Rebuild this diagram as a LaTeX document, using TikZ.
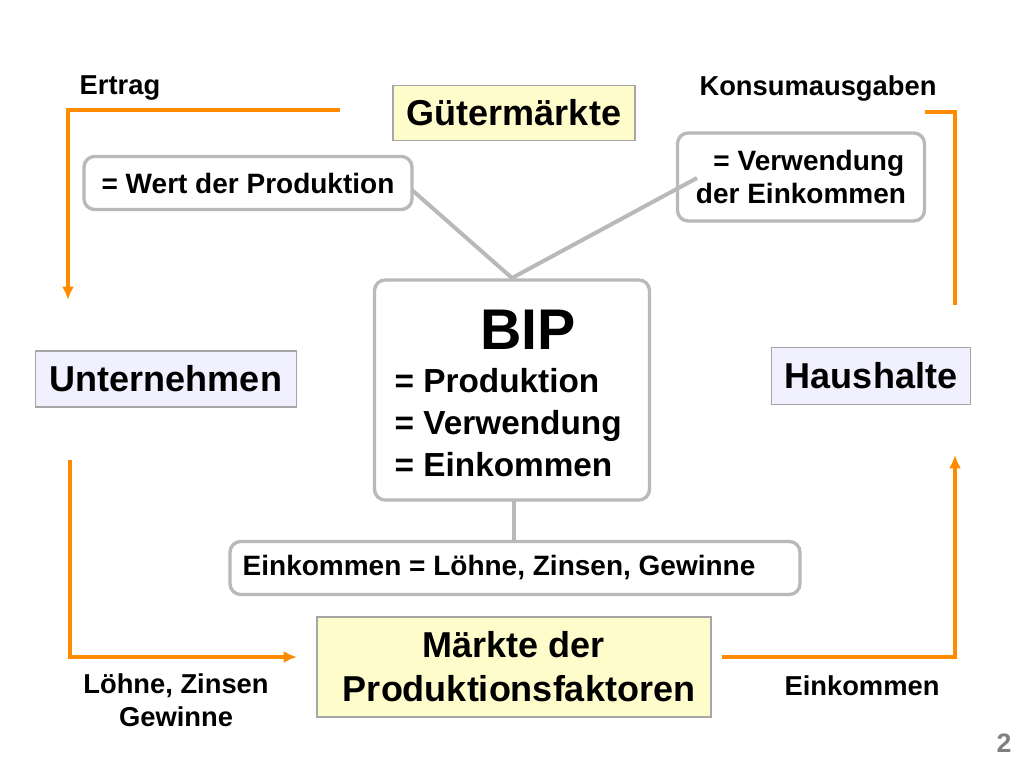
\documentclass[tikz,border=0pt]{standalone}
\usepackage{fontspec}
\setmainfont{Liberation Sans}
\begin{document}
\begin{tikzpicture}[x=0.75pt,y=-0.75pt,
  box/.style={draw=gray!70,line width=0.8pt,inner sep=0pt},
  rbox/.style={draw=gray!55,line width=2.5pt,rounded corners=8pt,fill=white,inner sep=0pt},
  flow/.style={draw=orange!90!yellow,line width=3pt,-{Latex[length=10pt,width=9pt]}},
  link/.style={draw=gray!55,line width=3pt},
  lab/.style={font=\bfseries\fontsize{20.5}{24}\selectfont,align=center}]
\usetikzlibrary{arrows.meta}
\useasboundingbox (0,0) rectangle (1024,768);
\node[box,fill=yellow!20,minimum width=242*0.75pt,minimum height=55*0.75pt,font=\bfseries\fontsize{27}{30}\selectfont] (gm) at (514,113) {Gütermärkte};
\node[rbox,minimum width=328*0.75pt,minimum height=53*0.75pt,font=\bfseries\fontsize{21}{24}\selectfont] (wp) at (248,183) {= Wert der Produktion};
\node[rbox,minimum width=247*0.75pt,minimum height=88*0.75pt,font=\bfseries\fontsize{21}{25}\selectfont,align=center] (vw) at (801,177) {\ \ = Verwendung\\der Einkommen};
\node[rbox,minimum width=275*0.75pt,minimum height=220*0.75pt] (bip) at (512,390) {};
\node[font=\bfseries\fontsize{43}{46}\selectfont] (bipt) at (528,330) {BIP};
\node[font=\bfseries\fontsize{25}{31.5}\selectfont,align=left,anchor=north west] (bipl) at (390,364) {= Produktion\\= Verwendung\\= Einkommen};
\node[box,fill=blue!6,minimum width=261*0.75pt,minimum height=56*0.75pt,font=\bfseries\fontsize{27}{30}\selectfont] (un) at (166,379) {Unternehmen};
\node[box,fill=blue!6,minimum width=199*0.75pt,minimum height=57*0.75pt,font=\bfseries\fontsize{27}{30}\selectfont] (hh) at (871,376) {Haushalte};
\node[rbox,minimum width=570*0.75pt,minimum height=53*0.75pt] (ek) at (515,568) {};
\node[font=\bfseries\fontsize{21}{24}\selectfont,anchor=west] (ekt) at (238,568) {Einkommen = Löhne, Zinsen, Gewinne};
\node[box,fill=yellow!20,minimum width=394*0.75pt,minimum height=100*0.75pt,font=\bfseries\fontsize{27}{33}\selectfont,align=center] (mp) at (514,667) {Märkte der\\\ Produktionsfaktoren};
\coordinate (w1) at (412,190); \coordinate (v1) at (697,178); \coordinate (bt) at (512,278);
\draw[link] (w1) -- (bt) -- (v1);
\draw[link] (514,501) -- (514,541);
\coordinate (a1) at (340,110); \coordinate (a2) at (68,300);
\draw[flow] (a1) -| (a2);
\coordinate (b1) at (955,305); \coordinate (b2) at (925,112);
\draw[flow,-] (b1) |- (b2);
\coordinate (c1) at (70,460); \coordinate (c2) at (297,657);
\draw[flow] (c1) |- (c2);
\coordinate (d1) at (722,657); \coordinate (d2) at (955,455);
\draw[flow] (d1) -| (d2);
\node[lab] (l1) at (120,88) {Ertrag};
\node[lab] (l2) at (818,88) {Konsumausgaben};
\node[lab,font=\bfseries\fontsize{20.5}{25}\selectfont] (l3) at (176,700) {Löhne, Zinsen\\Gewinne};
\node[lab] (l4) at (862,686) {Einkommen};
\node[font=\bfseries\fontsize{20}{22}\selectfont,text=gray] (pg) at (1004,743) {2};
\end{tikzpicture}
\end{document}
